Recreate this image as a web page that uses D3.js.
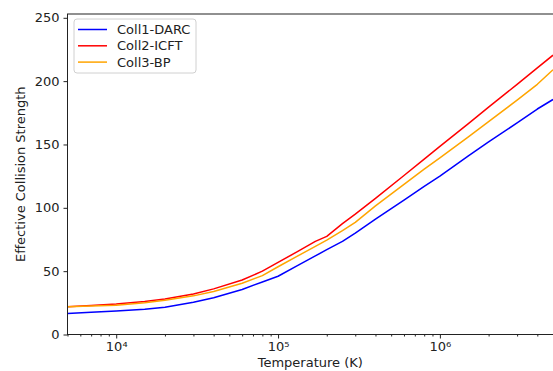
<!DOCTYPE html>
<html>
<head>
<meta charset="utf-8">
<script src="https://cdn.jsdelivr.net/npm/d3@7"></script>
<style>
  html, body { margin: 0; padding: 0; background: #fff; }
  svg { display: block; font-family: "DejaVu Sans", sans-serif; }
</style>
</head>
<body>
<div id="chart"></div>
<script>
// ── Data ──
const temperatures = [5e3, 7e3, 1e4, 1.5e4, 2e4, 3e4, 4e4, 6e4, 8e4, 1e5, 1.3e5, 1.7e5,
                      2e5, 2.5e5, 3e5, 4e5, 6e5, 8e5, 1e6, 1.5e6, 2e6, 3e6, 4e6, 5e6];
const darc = [16.5, 17.6, 18.6, 19.9, 21.5, 25.5, 29, 35.5, 41.5, 46, 54, 62,
              67, 73.5, 80, 91, 106, 117, 125, 141, 152, 167, 178, 185.5];
const icft = [22, 22.8, 24, 26, 28, 32, 36, 43, 50, 57, 65, 73.5,
              77.5, 87.5, 95, 107.5, 125.5, 138.5, 148.5, 166.5, 179.5, 197.5, 210.5, 220.5];
const bp   = [22, 22.4, 23, 25, 27, 30.5, 34, 40.5, 46.5, 53.5, 61.5, 69.5,
              74.5, 82, 88.5, 101.5, 118.5, 130.5, 139.5, 156, 168, 185, 197.5, 209];
const seriesNames  = ['Coll1-DARC', 'Coll2-ICFT', 'Coll3-BP'];
const seriesColors = ['#0000ff', '#ff0000', '#ffa500'];
const yTicks = [0, 50, 100, 150, 200, 250];
const xMajorTicks = [1e4, 1e5, 1e6];

const W = 553, H = 371;
const M = { left: 67.5, right: 553, top: 14, bottom: 334.5 };

const svg = d3.select('#chart').append('svg')
  .attr('width', W).attr('height', H);

const x = d3.scaleLog().domain([5e3, 5e6]).range([M.left, M.right]);
const y = d3.scaleLinear().domain([0, 253]).range([M.bottom, M.top]);

// ── Lines ──
const clip = svg.append('clipPath').attr('id', 'plot-clip')
  .append('rect').attr('x', M.left).attr('y', M.top)
  .attr('width', M.right - M.left).attr('height', M.bottom - M.top);

const line = d3.line().x((d, i) => x(temperatures[i])).y(d => y(d));
const plot = svg.append('g').attr('clip-path', 'url(#plot-clip)');
[darc, icft, bp].forEach((vals, i) => {
  plot.append('path')
    .attr('d', line(vals))
    .attr('fill', 'none')
    .attr('stroke', seriesColors[i])
    .attr('stroke-width', 1.5)
    .attr('stroke-linejoin', 'round');
});

// ── Frame ──
svg.append('rect')
  .attr('x', M.left).attr('y', M.top)
  .attr('width', M.right - M.left + 2).attr('height', M.bottom - M.top)
  .attr('fill', 'none').attr('stroke', '#222').attr('stroke-width', 1);

// ── Y axis ──
const yAxis = svg.append('g').attr('transform', `translate(${M.left},0)`)
  .call(d3.axisLeft(y).tickValues(yTicks).tickSize(4).tickPadding(4));
yAxis.select('.domain').remove();
yAxis.selectAll('text').attr('font-size', 13).attr('fill', '#222')
  .attr('font-family', '"DejaVu Sans", sans-serif');
yAxis.selectAll('line').attr('stroke', '#222');

// ── X axis (log) ──
const minorTicks = [];
for (let e = 3; e <= 6; e++) {
  for (let k = 2; k <= 9; k++) {
    const v = k * Math.pow(10, e);
    if (v >= 5e3 && v <= 5e6) minorTicks.push(v);
  }
}
const xMinor = svg.append('g').attr('transform', `translate(0,${M.bottom})`)
  .call(d3.axisBottom(x).tickValues(minorTicks).tickSize(2).tickFormat(''));
xMinor.select('.domain').remove();
xMinor.selectAll('line').attr('stroke', '#222');

const sup = { '4': '⁴', '5': '⁵', '6': '⁶' };
const xAxis = svg.append('g').attr('transform', `translate(0,${M.bottom})`)
  .call(d3.axisBottom(x).tickValues(xMajorTicks).tickSize(4).tickPadding(3)
    .tickFormat(d => '10' + sup[String(Math.round(Math.log10(d)))]));
xAxis.select('.domain').remove();
xAxis.selectAll('line').attr('stroke', '#222');
xAxis.selectAll('text').attr('font-size', 13).attr('fill', '#222')
  .attr('font-family', '"DejaVu Sans", sans-serif');

// ── Axis labels ──
svg.append('text')
  .attr('x', (M.left + M.right) / 2).attr('y', 367)
  .attr('text-anchor', 'middle').attr('font-size', 13).attr('fill', '#222')
  .text('Temperature (K)');

svg.append('text')
  .attr('transform', `translate(25,${(M.top + M.bottom) / 2}) rotate(-90)`)
  .attr('text-anchor', 'middle').attr('font-size', 13).attr('fill', '#222')
  .text('Effective Collision Strength');

// ── Legend ──
const lg = svg.append('g').attr('transform', 'translate(74,19)');
lg.append('rect')
  .attr('width', 122).attr('height', 54).attr('rx', 3)
  .attr('fill', '#fff').attr('fill-opacity', 0.8)
  .attr('stroke', '#d0d0d0').attr('stroke-width', 1);
seriesNames.forEach((name, i) => {
  const cy = 10.5 + i * 16.3;
  lg.append('line')
    .attr('x1', 4).attr('x2', 33).attr('y1', cy).attr('y2', cy)
    .attr('stroke', seriesColors[i]).attr('stroke-width', 1.5);
  lg.append('text')
    .attr('x', 43).attr('y', cy).attr('dy', '0.35em')
    .attr('font-size', 13).attr('fill', '#222')
    .text(name);
});
</script>
</body>
</html>
